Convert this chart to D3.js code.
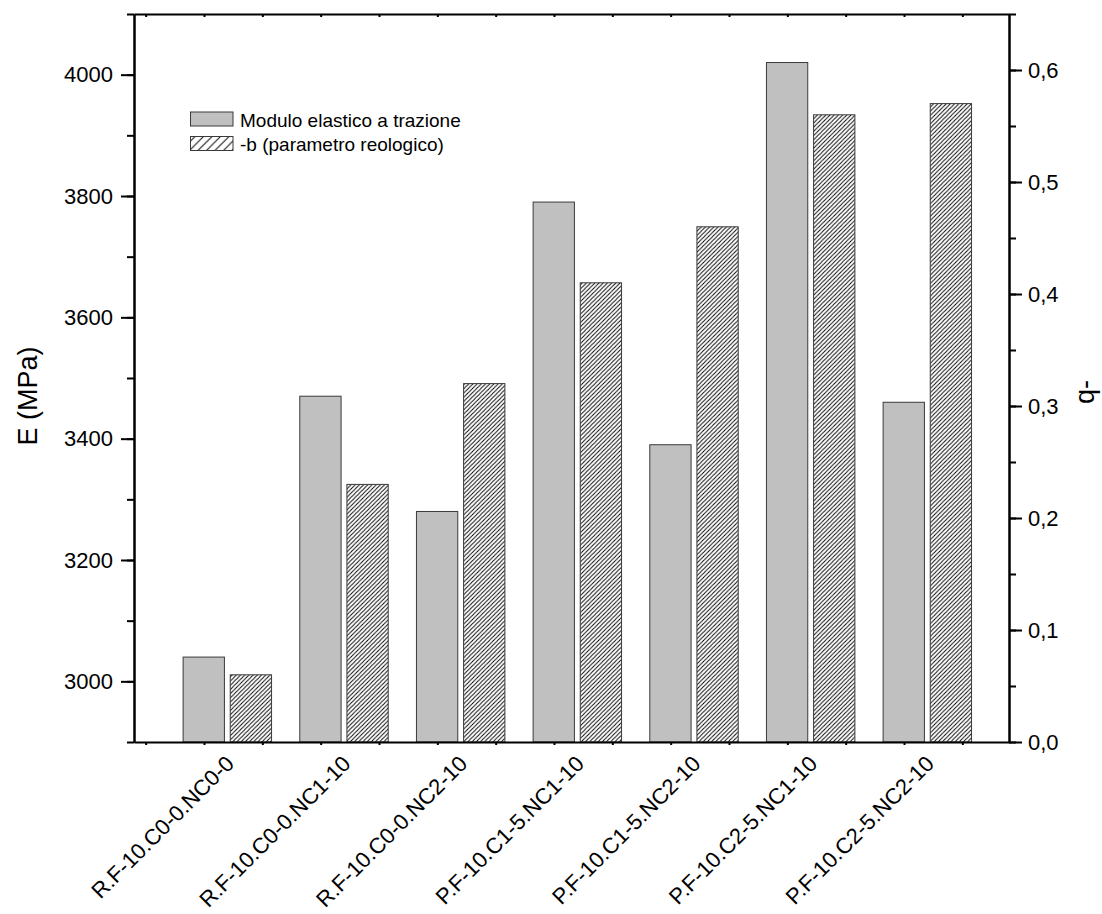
<!DOCTYPE html>
<html>
<head>
<meta charset="utf-8">
<script src="https://cdn.jsdelivr.net/npm/d3@7"></script>
<style>
  body { margin: 0; background: #fff; }
  text { font-family: "Liberation Sans", Arial, sans-serif; fill: #000; }
</style>
</head>
<body>
<svg id="chart" width="1102" height="914"></svg>
<script>
// Samples and measured properties
const categories = [
  "R.F-10.C0-0.NC0-0",
  "R.F-10.C0-0.NC1-10",
  "R.F-10.C0-0.NC2-10",
  "P.F-10.C1-5.NC1-10",
  "P.F-10.C1-5.NC2-10",
  "P.F-10.C2-5.NC1-10",
  "P.F-10.C2-5.NC2-10"
];
const modulusE = [3040, 3470, 3280, 3790, 3390, 4020, 3460];   // MPa, left axis
const paramB   = [0.06, 0.23, 0.32, 0.41, 0.46, 0.56, 0.57];   // right axis
const eTicks = [3000, 3200, 3400, 3600, 3800, 4000];
const bTicks = [0, 0.1, 0.2, 0.3, 0.4, 0.5, 0.6];
const seriesNames = ["Modulo elastico a trazione", "-b (parametro reologico)"];
const leftTitle = "E (MPa)";
const rightTitle = "q-";

const W = 1102, H = 914;
const plot = { left: 134, right: 1009, top: 14, bottom: 742 };
const GRAY = "#c0c0c0", EDGE = "#3a3a3a";

const svg = d3.select("#chart");
svg.append("rect").attr("width", W).attr("height", H).attr("fill", "#fff");

// Diagonal hatch patterns (fine for bars, coarser for the legend key)
const defs = svg.append("defs");
function hatch(id, s) {
  const p = defs.append("pattern")
    .attr("id", id).attr("patternUnits", "userSpaceOnUse")
    .attr("width", s).attr("height", s);
  p.append("rect").attr("width", s).attr("height", s).attr("fill", "#fff");
  p.append("path")
    .attr("d", `M${-s/4},${s/4} L${s/4},${-s/4} M0,${s} L${s},0 M${s*0.75},${s*1.25} L${s*1.25},${s*0.75}`)
    .attr("stroke", "#000").attr("stroke-width", 0.95);
}
hatch("hatchBar", 4.2);
hatch("hatchKey", 8.5);

// Scales: categories sit at 1..7
const x  = d3.scaleLinear().domain([0.2, 7.7]).range([plot.left, plot.right]);
const yE = d3.scaleLinear().domain([2900, 4100]).range([plot.bottom, plot.top]);
const yB = d3.scaleLinear().domain([0, 0.65]).range([plot.bottom, plot.top]);
const barW = 0.354, halfGap = 0.025;

// Bars
const bars = svg.append("g");
bars.selectAll("rect.e").data(modulusE).join("rect")
  .attr("class", "e")
  .attr("x", (d, i) => x(i + 1 - halfGap - barW))
  .attr("width", x(barW) - x(0))
  .attr("y", d => yE(d))
  .attr("height", d => yE(2900) - yE(d))
  .attr("fill", GRAY).attr("stroke", EDGE).attr("stroke-width", 1);

bars.selectAll("rect.b").data(paramB).join("rect")
  .attr("class", "b")
  .attr("x", (d, i) => x(i + 1 + halfGap))
  .attr("width", x(barW) - x(0))
  .attr("y", d => yB(d))
  .attr("height", d => yB(0) - yB(d))
  .attr("fill", "url(#hatchBar)").attr("stroke", EDGE).attr("stroke-width", 1);

// Axes
const commaFmt = d3.formatLocale({ decimal: ",", thousands: ".", grouping: [3], currency: ["", ""] }).format(".1f");

function styleAxis(g, fontSize) {
  g.selectAll("path.domain").attr("stroke", "#000").attr("stroke-width", 2);
  g.selectAll(".tick line").attr("stroke", "#000").attr("stroke-width", 2);
  g.selectAll(".tick text").attr("font-size", fontSize)
    .style("font-family", '"Liberation Sans", Arial, sans-serif').attr("fill", "#000");
  g.attr("font-family", null);
}

// Left axis: minor every 100, major every 200
const leftMinor = svg.append("g").attr("transform", `translate(${plot.left},0)`)
  .call(d3.axisLeft(yE).tickValues(d3.range(2900, 4101, 100)).tickSize(7).tickSizeOuter(0).tickFormat(""));
styleAxis(leftMinor, 22);
const leftAxis = svg.append("g").attr("transform", `translate(${plot.left},0)`)
  .call(d3.axisLeft(yE).tickValues(eTicks).tickSize(13).tickPadding(8).tickSizeOuter(0).tickFormat(d3.format("d")));
styleAxis(leftAxis, 22);

// Right axis: minor every 0.05, major every 0.1
const rightMinor = svg.append("g").attr("transform", `translate(${plot.right},0)`)
  .call(d3.axisRight(yB).tickValues(d3.range(0, 0.651, 0.05)).tickSize(7).tickSizeOuter(0).tickFormat(""));
styleAxis(rightMinor, 22);
const rightAxis = svg.append("g").attr("transform", `translate(${plot.right},0)`)
  .call(d3.axisRight(yB).tickValues(bTicks).tickSize(13).tickPadding(6).tickSizeOuter(0).tickFormat(commaFmt));
styleAxis(rightAxis, 22);

// Bottom and top axes with short ticks
const xTickVals = d3.range(0.3, 7.7, 0.5);
const bottomAxis = svg.append("g").attr("transform", `translate(0,${plot.bottom})`)
  .call(d3.axisBottom(x).tickValues(xTickVals).tickSize(3).tickSizeOuter(0).tickFormat(""));
styleAxis(bottomAxis, 22);
const topAxis = svg.append("g").attr("transform", `translate(0,${plot.top})`)
  .call(d3.axisTop(x).tickValues(xTickVals).tickSize(-3).tickSizeOuter(0).tickFormat(""));
styleAxis(topAxis, 22);

// Category labels, rotated
svg.append("g").selectAll("text").data(categories).join("text")
  .attr("transform", (d, i) => `translate(${x(i + 1) + 8},765) rotate(-45)`)
  .attr("text-anchor", "end")
  .attr("font-size", 22)
  .text(d => d);

// Axis titles
svg.append("text")
  .attr("transform", "translate(37,396) rotate(-90)")
  .attr("text-anchor", "middle").attr("font-size", 27)
  .text(leftTitle);
svg.append("text")
  .attr("transform", "translate(1094,392) rotate(-90)")
  .attr("text-anchor", "middle").attr("font-size", 27)
  .text(rightTitle);

// Legend
const legend = svg.append("g");
const keyFills = [GRAY, "url(#hatchKey)"];
seriesNames.forEach((name, i) => {
  legend.append("rect")
    .attr("x", 190.5).attr("y", 112 + i * 24.5)
    .attr("width", 42.5).attr("height", 14)
    .attr("fill", keyFills[i]).attr("stroke", EDGE).attr("stroke-width", 1);
  legend.append("text")
    .attr("x", 240).attr("y", 126.5 + i * 24.5)
    .attr("font-size", 19)
    .text(name);
});
</script>
</body>
</html>
